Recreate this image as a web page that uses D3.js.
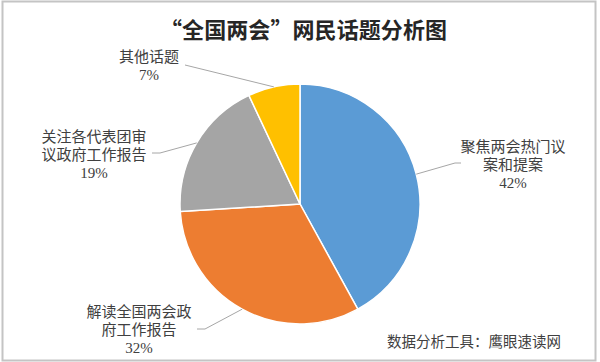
<!DOCTYPE html>
<html>
<head>
<meta charset="utf-8">
<script src="https://cdn.jsdelivr.net/npm/d3@7"></script>
<style>
  body { margin: 0; background: #fff; }
  svg text { font-family: "Liberation Serif", "Noto Sans CJK SC", serif; }
</style>
</head>
<body>
<div id="chart"></div>
<script>
// chart data
var topics = ["聚焦两会热门议案和提案", "解读全国两会政府工作报告", "关注各代表团审议政府工作报告", "其他话题"];
var shares = [42, 32, 19, 7];
// label text split into lines as shown on the chart
var labelLines = [
  ["聚焦两会热门议", "案和提案"],
  ["解读全国两会政", "府工作报告"],
  ["关注各代表团审", "议政府工作报告"],
  ["其他话题"]
];
var colors = ["#5B9BD5", "#ED7D31", "#A5A5A5", "#FFC000"];

var svgWidth = 600;
var svgHeight = 362;

// label placement (text centre of the first line, and leader elbow)
var labelLayout = [
  { x: 513, y: 147, elbow: [455, 163], end: [461, 163] },
  { x: 139, y: 312, elbow: [205, 329], end: [197, 329] },
  { x: 94, y: 137, elbow: [160, 153], end: [152, 153] },
  { x: 149, y: 57, elbow: [185, 65], end: [185, 65] }
];

var svg = d3.select("#chart")
  .append("svg")
  .attr("width", svgWidth)
  .attr("height", svgHeight);

// outer frame
svg.append("rect")
  .attr("x", 2.5)
  .attr("y", 1.5)
  .attr("width", 593)
  .attr("height", 359)
  .attr("fill", "#fff")
  .attr("stroke", "#c4c4c4")
  .attr("stroke-width", 2);

// title
svg.append("text")
  .attr("x", 160)
  .attr("y", 28)
  .attr("dominant-baseline", "central")
  .attr("textLength", 287)
  .attr("lengthAdjust", "spacing")
  .style("font-family", "'Noto Sans CJK SC', sans-serif")
  .style("font-weight", "bold")
  .style("font-size", "22px")
  .attr("fill", "#262626")
  .text("“全国两会”网民话题分析图");

var radius = 120;
var cx = 300, cy = 204;

var pie = d3.pie().sort(null).value(d => d);
var arcs = pie(shares);

var arc = d3.arc().innerRadius(0).outerRadius(radius);

var pieGroup = svg.append("g")
  .attr("transform", `translate(${cx}, ${cy})`);

pieGroup.selectAll("path")
  .data(arcs)
  .enter()
  .append("path")
  .attr("d", arc)
  .attr("fill", (d, i) => colors[i])
  .attr("stroke", "#fff")
  .attr("stroke-width", 1.5);

// leader lines
arcs.forEach(function (d, i) {
  var mid = (d.startAngle + d.endAngle) / 2;
  var px = cx + radius * Math.sin(mid);
  var py = cy - radius * Math.cos(mid);
  var L = labelLayout[i];
  svg.append("polyline")
    .attr("points", [[px, py], L.elbow, L.end].map(p => p.join(",")).join(" "))
    .attr("fill", "none")
    .attr("stroke", "#a6a6a6")
    .attr("stroke-width", 1);
});

// data labels
var lineH = 18;
labelLines.forEach(function (lines, i) {
  var L = labelLayout[i];
  var t = svg.append("text")
    .attr("text-anchor", "middle")
    .attr("fill", "#404040")
    .style("font-size", "15px");
  lines.concat([shares[i] + "%"]).forEach(function (s, j) {
    t.append("tspan")
      .attr("x", L.x)
      .attr("y", L.y + j * lineH)
      .attr("dominant-baseline", "central")
      .text(s);
  });
});

// source note
svg.append("text")
  .attr("x", 474)
  .attr("y", 342)
  .attr("text-anchor", "middle")
  .attr("dominant-baseline", "central")
  .attr("fill", "#404040")
  .style("font-size", "14.5px")
  .text("数据分析工具：鹰眼速读网");
</script>
</body>
</html>
